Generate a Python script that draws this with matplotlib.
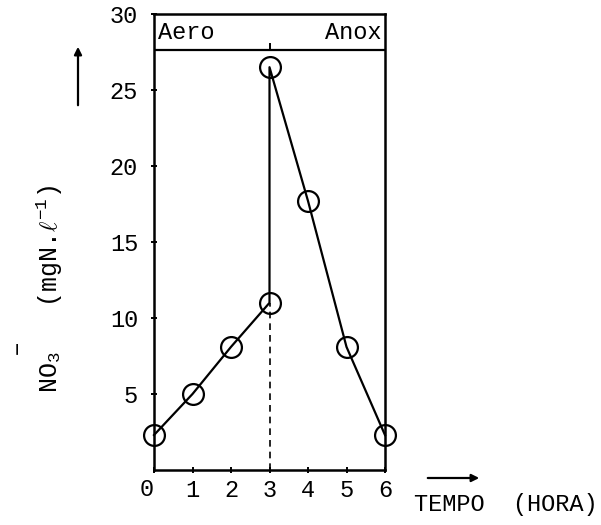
import matplotlib
matplotlib.use("Agg")
import matplotlib.pyplot as plt
from matplotlib.patches import FancyArrowPatch

# Data
tempo = [0, 1, 2, 3, 3, 4, 5, 6]
no3 = [2.3, 5.0, 8.1, 11.0, 26.5, 17.7, 8.1, 2.3]
xticks = [0, 1, 2, 3, 4, 5, 6]
yticks = [5, 10, 15, 20, 25, 30]
phase_labels = ["Aero", "Anox"]
phase_switch = 3
box_bottom = 27.6

FONT = ["Liberation Mono", "DejaVu Sans Mono"]
plt.rcParams["font.family"] = FONT
plt.rcParams["mathtext.fontset"] = "custom"
plt.rcParams["mathtext.rm"] = "Liberation Mono"
plt.rcParams["mathtext.it"] = "DejaVu Serif:italic"

FS = 17
W, H = 601, 525
fig = plt.figure(figsize=(W / 100, H / 100), dpi=100)
ax = fig.add_axes([154 / W, 1 - 470 / H, (385 - 154) / W, (470 - 14) / H])

ax.plot(tempo, no3, color="black", lw=1.6, marker="o", ms=15,
        mfc="none", mec="black", mew=1.6, clip_on=False, zorder=3)

# dashed line at switch
ax.plot([phase_switch, phase_switch], [0, no3[3]], color="black",
        lw=1.2, ls=(0, (4, 3)))

# phase box
ax.axhline(box_bottom, color="black", lw=1.6)
ax.plot([phase_switch, phase_switch], [box_bottom, box_bottom + 0.4],
        color="black", lw=1.4)
ax.text(0.1, (30 + box_bottom) / 2, phase_labels[0], ha="left", va="center",
        fontsize=FS)
ax.text(5.92, (30 + box_bottom) / 2, phase_labels[1], ha="right", va="center",
        fontsize=FS)

ax.set_xlim(0, 6)
ax.set_ylim(0, 30)
ax.set_xticks(xticks)
ax.set_yticks(yticks)
ax.tick_params(direction="inout", length=5, width=1.4, labelsize=FS)
ax.tick_params(axis="y", pad=9)
ax.tick_params(axis="x", pad=4)
for s in ax.spines.values():
    s.set_linewidth(1.8)

ax.set_yticklabels([str(v) for v in yticks])
ax.set_xticklabels([""] + [str(v) for v in xticks[1:]])
# 0 label at origin
fig.text(147 / W, 1 - 489 / H, "0", ha="center", va="center", fontsize=FS)

# y label
fig.text(49 / W, 1 - 289 / H, r"NO$_3$   (mgN.$\ell^{-1}$)", rotation=90,
         ha="center", va="center", fontsize=18)
fig.text(16 / W, 1 - 347 / H, "\u2013", rotation=90, ha="center",
         va="center", fontsize=18)

# x label
fig.text(506 / W, 1 - 504 / H, "TEMPO  (HORA)", ha="center", va="center",
         fontsize=FS)

# arrows
fig.add_artist(FancyArrowPatch(
    (78 / W, 1 - 108 / H), (78 / W, 1 - 44 / H), transform=fig.transFigure,
    arrowstyle="-|>", mutation_scale=11, lw=1.6, color="black"))
fig.add_artist(FancyArrowPatch(
    (425 / W, 1 - 478 / H), (482 / W, 1 - 478 / H), transform=fig.transFigure,
    arrowstyle="-|>", mutation_scale=11, lw=1.6, color="black"))

fig.savefig("out.png", dpi=100)
